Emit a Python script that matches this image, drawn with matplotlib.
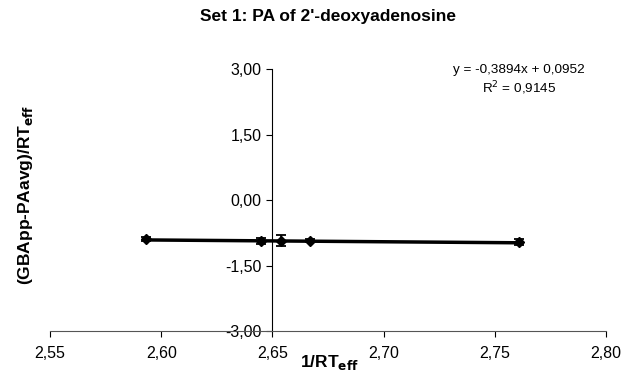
import matplotlib.pyplot as plt
import numpy as np
from matplotlib.ticker import FuncFormatter

plt.rcParams['font.family'] = ['Liberation Sans', 'DejaVu Sans']

# data
x_vals = [2.593, 2.645, 2.654, 2.667, 2.761]
y_vals = [-0.90, -0.94, -0.93, -0.93, -0.97]
y_err = [0.05, 0.06, 0.12, 0.03, 0.07]
slope = -0.3894
intercept = 0.0952
r2 = 0.9145

x_ticks = [2.55, 2.60, 2.65, 2.70, 2.75, 2.80]
y_ticks = [-3.0, -1.5, 0.0, 1.5, 3.0]

fig = plt.figure(figsize=(6.34, 3.73), dpi=100)
ax = fig.add_axes([0.0789, 0.1126, 0.877, 0.7024])

# trend line over the data range
xl = np.array([min(x_vals), max(x_vals)])
ax.plot(xl, slope * xl + intercept, color='black', lw=2.5, zorder=2)
ax.errorbar(x_vals, y_vals, yerr=y_err, fmt='D', color='black', ms=5,
            ecolor='black', elinewidth=1.2, capsize=3.5, capthick=1.3, zorder=3)

ax.set_xlim(2.55, 2.80)
ax.set_ylim(-3, 3)
ax.set_xticks(x_ticks)
ax.set_yticks(y_ticks)
comma = FuncFormatter(lambda v, p: f"{v:.2f}".replace('.', ','))
ax.xaxis.set_major_formatter(comma)
ax.yaxis.set_major_formatter(comma)

for s in ['top', 'right']:
    ax.spines[s].set_visible(False)
ax.spines['left'].set_position(('data', 2.65))
ax.spines['left'].set_linewidth(0.8)
ax.spines['bottom'].set_linewidth(0.8)
ax.spines['bottom'].set_color('#555555')
ax.tick_params(axis='both', direction='out', length=4, width=0.8,
               labelsize=11.5, colors='black')
ax.tick_params(axis='x', pad=7)
ax.tick_params(axis='y', pad=4)

fig.text(0.519, 0.003, r'1/RT$_{\mathbf{eff}}$', ha='center', va='bottom',
         fontsize=12.5, fontweight='bold')
fig.text(0.041, 0.477, r'(GBApp-PAavg)/RT$_{\mathbf{eff}}$', ha='center',
         va='center', rotation=90, fontsize=12.5, fontweight='bold')
fig.text(0.517, 0.955, "Set 1: PA of 2'-deoxyadenosine", ha='center',
         va='center', fontsize=12.5, fontweight='bold')

eq = f"y = {slope:.4f}x + {intercept:.4f}".replace('.', ',')
ax.text(0.843, 0.995, eq, transform=ax.transAxes, ha='center', va='center',
        fontsize=9.7)
ax.text(0.843, 0.925, f"R$^2$ = {r2:.4f}".replace('.', ','),
        transform=ax.transAxes, ha='center', va='center', fontsize=9.7)

fig.savefig('out.png', dpi=100)
